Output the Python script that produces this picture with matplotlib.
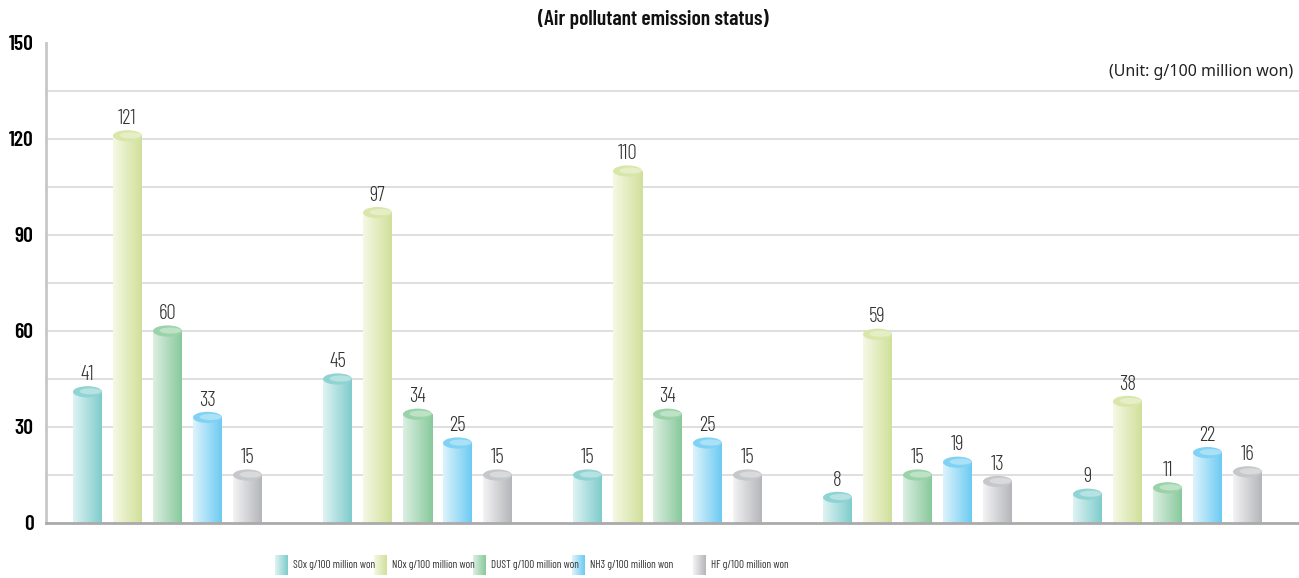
import numpy as np
import matplotlib
matplotlib.use("Agg")
import matplotlib.pyplot as plt
from matplotlib.patches import Ellipse
from matplotlib.colors import to_rgb

series = ["SOx g/100 million won", "NOx g/100 million won", "DUST g/100 million won",
          "NH3 g/100 million won", "HF g/100 million won"]
sox = [41, 45, 15, 8, 9]
nox = [121, 97, 110, 59, 38]
dust = [60, 34, 34, 15, 11]
nh3 = [33, 25, 25, 19, 22]
hf = [15, 15, 15, 13, 16]
values = [sox, nox, dust, nh3, hf]
yticks = [0, 30, 60, 90, 120, 150]

light = ["#dff3f3", "#f5f8e4", "#dcefe2", "#def3fc", "#f3f3f4"]
dark = ["#7fcccc", "#d0e09a", "#88c99c", "#6ccbf2", "#b5b6ba"]
topc = ["#8fd3d3", "#d8e6aa", "#9ad3a9", "#7fd2f3", "#c6c7ca"]

COND = ["Barlow Condensed", "Roboto Condensed", "DejaVu Sans"]

W, H = 1299, 578
fig = plt.figure(figsize=(W / 100, H / 100), dpi=100)
ax = fig.add_axes([46 / W, 1 - 523 / H, 1 - 46 / W, 480 / H])

def grad(c1, c2, n=64):
    a = np.array(to_rgb(c1)); b = np.array(to_rgb(c2))
    t = np.linspace(0, 1, n)[:, None]
    return (a * (1 - t) + b * t)[None, :, :]

bw = 29 / 250
step = 40 / 250
eh = 3.5
for j, vals in enumerate(values):
    g = grad(light[j], dark[j])
    for i, v in enumerate(vals):
        xc = i + (j - 2) * step
        x0, x1 = xc - bw / 2, xc + bw / 2
        ax.imshow(g, extent=[x0, x1, 0, v], aspect="auto", zorder=3, interpolation="bilinear")
        ax.add_patch(Ellipse((xc, v), bw, eh, facecolor=topc[j], edgecolor="none", zorder=4))
        ax.add_patch(Ellipse((xc + bw * 0.1, v + 0.15), bw * 0.75, eh * 0.55,
                             facecolor="white", alpha=0.35, edgecolor="none", zorder=4))
        ax.text(xc, v + 5.4, str(v), ha="center", va="center", fontsize=15,
                color="#333333", family=COND, fontweight=300, zorder=5)

ax.set_xlim((46 - 167.5) / 250, (1299 - 167.5) / 250)
ax.set_ylim(0, 150)
ax.set_yticks(yticks)
ax.set_yticklabels([str(t) for t in yticks], family=COND, fontsize=15.5, fontweight=600)
for y in range(15, 150, 15):
    ax.axhline(y, color="#d9d9d9", lw=1.2, zorder=1)
ax.set_xticks([])
ax.tick_params(axis="y", length=0, pad=9)
for s in ["top", "right"]:
    ax.spines[s].set_visible(False)
ax.spines["left"].set_color("#c8c8c8")
ax.spines["left"].set_linewidth(2)
ax.spines["bottom"].set_color("#aaaaaa")
ax.spines["bottom"].set_linewidth(2)
ax.spines["bottom"].set_zorder(6)

ov = fig.add_axes([0, 0, 1, 1], facecolor="none")
ov.set_xlim(0, W); ov.set_ylim(H, 0); ov.axis("off")
ov.text(653, 19, "(Air pollutant emission status)", ha="center", va="center",
        fontsize=15.5, fontweight=600, family=COND, color="#111111")
ov.text(1293, 72, "(Unit: g/100 million won)", ha="right", va="center",
        fontsize=11.5, family=["Noto Sans", "DejaVu Sans"], color="#222222")

sw_x = [275, 374, 473, 572, 693]
for j, name in enumerate(series):
    ov.imshow(grad(light[j], dark[j]), extent=[sw_x[j], sw_x[j] + 13, 575, 555],
              aspect="auto", interpolation="bilinear")
    ov.text(sw_x[j] + 18, 565, name, ha="left", va="center", fontsize=8,
            family=COND, color="#333333", fontweight=400)
ov.set_xlim(0, W); ov.set_ylim(H, 0)

fig.savefig("out.png", dpi=100)
